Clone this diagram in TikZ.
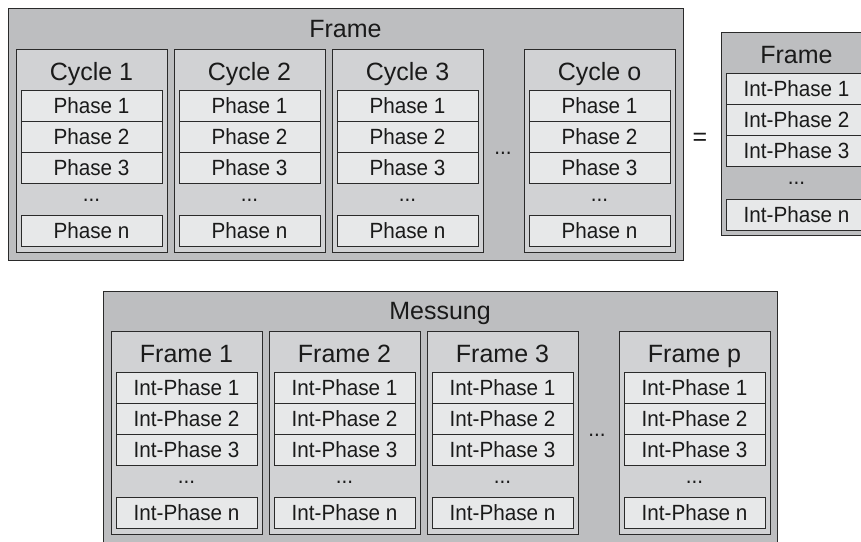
\documentclass[tikz,border=0pt]{standalone}
\usepackage{fontspec}
\setmainfont{Liberation Sans}
\newfontfamily\rowfont{Liberation Sans}[FakeStretch=0.94]
\usepackage{tikz}
\definecolor{grisFondo}{HTML}{BDBEC0}
\definecolor{grisMedio}{HTML}{D1D2D4}
\definecolor{grisClaro}{HTML}{E7E8E9}
\definecolor{grisLinea}{HTML}{2A2A2A}
\definecolor{grisTexto}{HTML}{1A1A1A}

% one column: box with a title, three rows, dots and a last row
% #1 name, #2 left x, #3 top y, #4 title, #5 row text
\newcommand{\stackbox}[5]{%
  \node[midbox] (#1) at (#2+75.5,#3+101.5) {};
  \node[titletext] (#1t) at (#2+75.5,#3+31) {#4};
  \foreach \r in {1,2,3}
    \node[rowbox] (#1r\r) at (#2+75.5,#3+41+31*\r-15.5) {#5 \r};
  \node[rowtext] (#1d) at (#2+75.5,#3+151) {...};
  \node[rowbox] (#1rn) at (#2+75.5,#3+181.5) {#5 n};
}

\begin{document}
\begin{tikzpicture}[x=1pt,y=-1pt,
    titletext/.style={text=grisTexto,inner sep=0pt,anchor=base,font=\fontsize{25}{28}\selectfont},
    rowtext/.style={text=grisTexto,inner sep=0pt,font=\rowfont\fontsize{22}{26}\selectfont},
    outerbox/.style={draw=grisLinea,line width=1pt,fill=grisFondo,inner sep=0pt,outer sep=0pt},
    midbox/.style={draw=grisLinea,line width=1pt,fill=grisMedio,inner sep=0pt,outer sep=0pt,
      minimum width=151pt,minimum height=203pt},
    rowbox/.style={rowtext,draw=grisLinea,line width=1pt,fill=grisClaro,outer sep=0pt,
      minimum width=141pt,minimum height=31pt}]
  \useasboundingbox (0,0) rectangle (861,541);
  \clip (0,0) rectangle (861,541);

  % upper frame made of cycles
  \node[outerbox,minimum width=675pt,minimum height=252pt] (frame) at (345.5,134) {};
  \node[titletext] (frameT) at (345.5,37) {Frame};
  \stackbox{cyc1}{16}{49}{Cycle 1}{Phase}
  \stackbox{cyc2}{174}{49}{Cycle 2}{Phase}
  \stackbox{cyc3}{332}{49}{Cycle 3}{Phase}
  \stackbox{cyco}{524}{49}{Cycle o}{Phase}
  \node[rowtext] (cycdots) at (503,153) {...};

  % equals sign and the frame it stands for
  \node[titletext] (equal) at (700,145) {=};
  \node[outerbox,minimum width=151pt,minimum height=203pt] (frameR) at (796.5,133.5) {};
  \node[titletext] (frameRT) at (796.5,63) {Frame};
  \foreach \r in {1,2,3}
    \node[rowbox] (frameRr\r) at (796.5,42+31*\r+16) {Int-Phase \r};
  \node[rowtext] (frameRd) at (796.5,183) {...};
  \node[rowbox] (frameRrn) at (796.5,214.5) {Int-Phase n};

  % lower box: the measurement made of frames
  \node[outerbox,minimum width=674pt,minimum height=270pt] (mess) at (440,426) {};
  \node[titletext] (messT) at (440,319) {Messung};
  \stackbox{fr1}{111}{331}{Frame 1}{Int-Phase}
  \stackbox{fr2}{269}{331}{Frame 2}{Int-Phase}
  \stackbox{fr3}{427}{331}{Frame 3}{Int-Phase}
  \stackbox{frp}{619}{331}{Frame p}{Int-Phase}
  \node[rowtext] (frdots) at (597,435) {...};
\end{tikzpicture}
\end{document}
